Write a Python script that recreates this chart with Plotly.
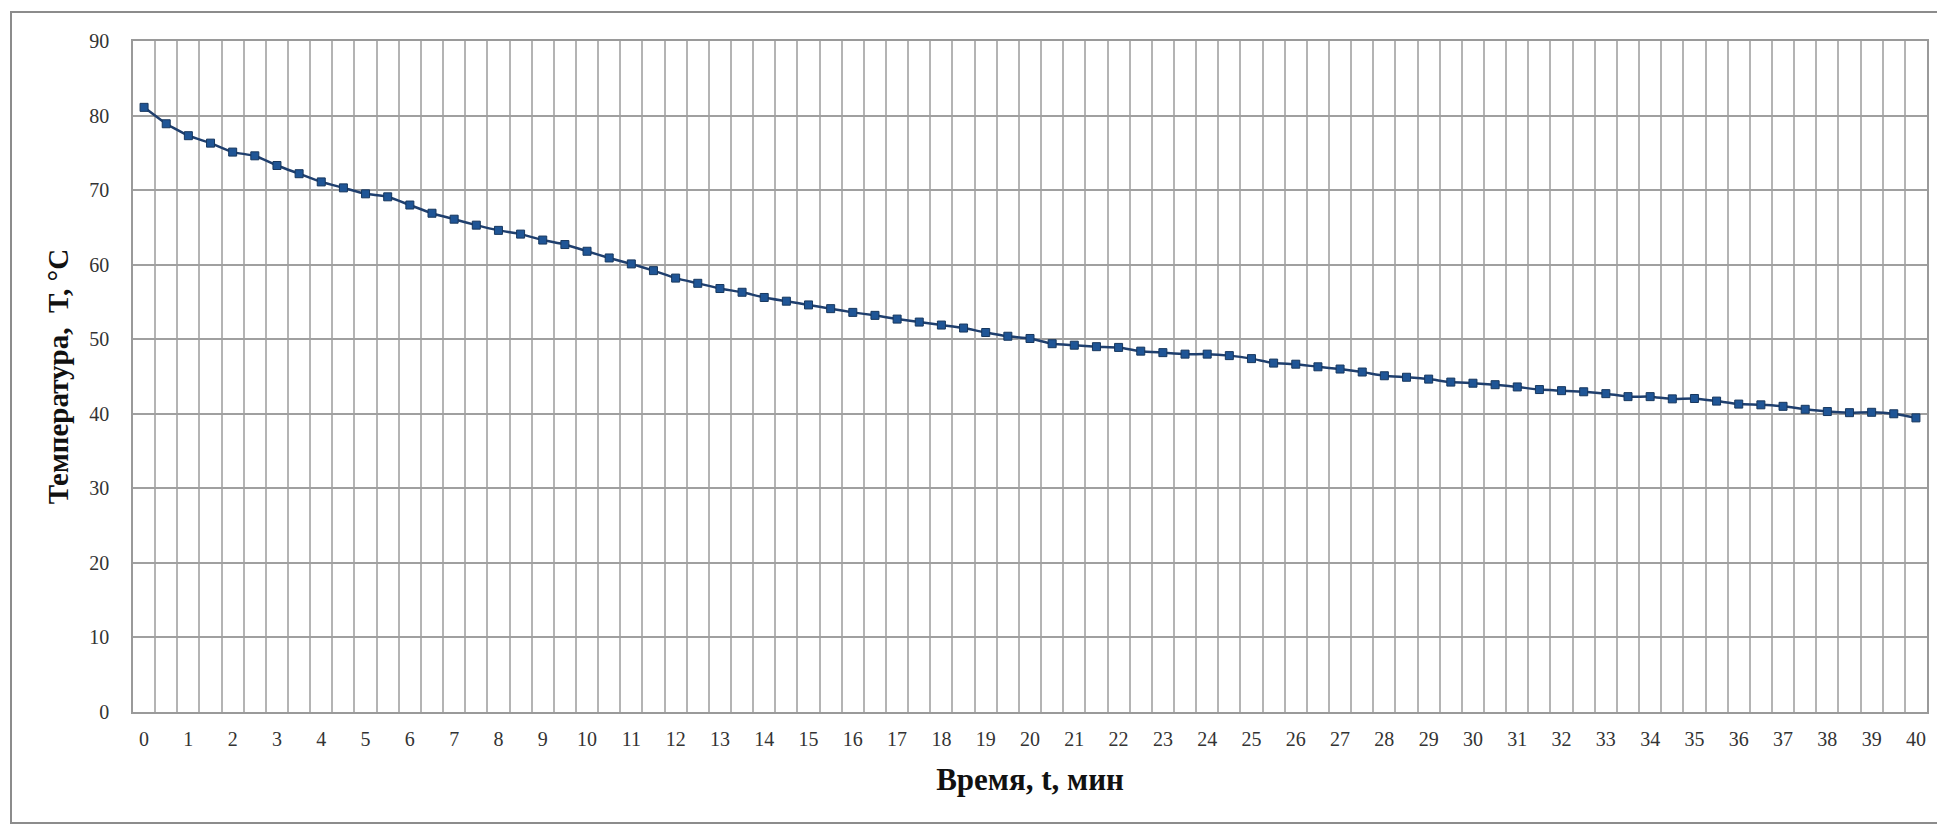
import plotly.graph_objects as go

# ---- data ----
time_min = [0, 0.5, 1, 1.5, 2, 2.5, 3, 3.5, 4, 4.5, 5, 5.5, 6, 6.5, 7, 7.5, 8, 8.5, 9, 9.5,
            10, 10.5, 11, 11.5, 12, 12.5, 13, 13.5, 14, 14.5, 15, 15.5, 16, 16.5, 17, 17.5,
            18, 18.5, 19, 19.5, 20, 20.5, 21, 21.5, 22, 22.5, 23, 23.5, 24, 24.5, 25, 25.5,
            26, 26.5, 27, 27.5, 28, 28.5, 29, 29.5, 30, 30.5, 31, 31.5, 32, 32.5, 33, 33.5,
            34, 34.5, 35, 35.5, 36, 36.5, 37, 37.5, 38, 38.5, 39, 39.5, 40]
temperature = [81.1, 78.9, 77.3, 76.3, 75.1, 74.6, 73.3, 72.2, 71.1, 70.3,
               69.5, 69.1, 68.0, 66.9, 66.1, 65.3, 64.6, 64.1, 63.3, 62.7,
               61.8, 60.9, 60.1, 59.2, 58.2, 57.5, 56.8, 56.3, 55.6, 55.1,
               54.6, 54.1, 53.6, 53.2, 52.7, 52.3, 51.9, 51.5, 50.9, 50.4,
               50.1, 49.4, 49.2, 49.0, 48.9, 48.4, 48.2, 48.0, 48.0, 47.8,
               47.4, 46.8, 46.65, 46.3, 46.0, 45.6, 45.1, 44.9, 44.65, 44.25,
               44.1, 43.9, 43.6, 43.25, 43.1, 42.95, 42.7, 42.3, 42.3, 42.0,
               42.05, 41.7, 41.3, 41.2, 41.0, 40.6, 40.3, 40.15, 40.2, 40.0,
               39.45]
x_tick_values = list(range(0, 41))
x_tick_labels = [str(v) for v in x_tick_values]
y_tick_values = [0, 10, 20, 30, 40, 50, 60, 70, 80, 90]

x_title = "Время, t, мин"
y_title = "Температура,  T, °C"

# ---- layout geometry (pixels in the final screenshot) ----
# the page body has a default 8px margin, so the figure is offset by 8px
OFF = 8
W, H = 1945 - OFF, 826 - OFF
plot_l, plot_r, plot_t, plot_b = 133 - OFF, 1927 - OFF, 41 - OFF, 712 - OFF
border_l, border_r, border_t, border_b = 11 - OFF, 1943 - OFF, 12 - OFF, 823 - OFF
pw, ph = plot_r - plot_l, plot_b - plot_t

fig = go.Figure()
fig.add_trace(go.Scatter(
    x=time_min, y=temperature, mode="lines+markers",
    line=dict(color="#1f3f6e", width=2.5, shape="spline", smoothing=0.5),
    marker=dict(symbol="square", size=8, color="#1f5596",
                line=dict(color="#17375e", width=1)),
    showlegend=False,
))

serif = "Liberation Serif, Times New Roman, serif"

fig.update_layout(
    width=W, height=H,
    margin=dict(l=plot_l, r=W - plot_r, t=plot_t, b=H - plot_b, pad=0),
    paper_bgcolor="white", plot_bgcolor="white",
    font=dict(family=serif, color="#333333"),
    shapes=[dict(
        type="rect", xref="paper", yref="paper",
        x0=(border_l - plot_l) / pw, x1=(border_r - plot_l) / pw,
        y0=(plot_b - border_b) / ph, y1=(plot_b - border_t) / ph,
        line=dict(color="#8c8c8c", width=2), fillcolor="rgba(0,0,0,0)",
        layer="below",
    )],
)

fig.update_xaxes(
    range=[-0.25, 40.25],
    tickmode="array", tickvals=x_tick_values, ticktext=x_tick_labels,
    showgrid=False, ticks="", ticklabelstandoff=8,
    tickfont=dict(family=serif, size=20, color="#333333"),
    showline=True, linecolor="#9a9a9a", linewidth=1.5, mirror=True,
    minor=dict(tick0=0.25, dtick=0.5, showgrid=True, gridcolor="#b4b4b4", gridwidth=1.5),
    zeroline=False,
    title=dict(text=x_title, font=dict(family=serif, size=31, color="#111111", weight="bold"),
               standoff=20),
)
fig.update_yaxes(
    range=[0, 90],
    tickmode="array", tickvals=y_tick_values,
    showgrid=True, gridcolor="#a0a0a0", gridwidth=1.5,
    ticks="", ticklabelstandoff=18,
    tickfont=dict(family=serif, size=20, color="#333333"),
    showline=True, linecolor="#9a9a9a", linewidth=1.5, mirror=True,
    zeroline=False,
    title=dict(text=y_title, font=dict(family=serif, size=29, color="#111111", weight="bold"),
               standoff=12),
)

fig.write_html("out.html")
